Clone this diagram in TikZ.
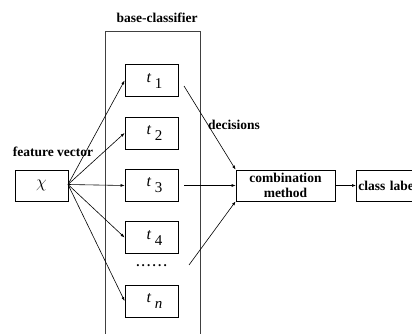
\documentclass[tikz,border=0pt]{standalone}
\usepackage{fontspec}
\setmainfont{Liberation Serif}
\usetikzlibrary{arrows.meta}
\tikzset{
  box/.style={draw=black, line width=0.8pt, minimum width=53pt, minimum height=32pt, inner sep=0pt},
  lbl/.style={font=\fontsize{13.5}{14}\selectfont\bfseries, inner sep=0pt},
  arr/.style={-{Latex[length=4pt,width=3pt]}, line width=0.6pt},
}
\newcommand{\tsub}[1]{\hspace{6pt}{\fontsize{16}{16}\selectfont\itshape t}\hspace{4pt}\raisebox{-6pt}{\fontsize{15}{15}\selectfont #1}}
\begin{document}
\begin{tikzpicture}[x=1pt,y=-1pt]
\useasboundingbox (0,0) rectangle (412,334);
\clip (0,0) rectangle (412,334);
% container
\draw[line width=1pt, draw=black!75] (105,345) -- (105,32) -- (200,32) -- (200,345);
\node[lbl] (bc) at (157,18) {base-classifier};
% base classifiers
\node[box] (t1) at (151.5,80.5) {\tsub{1}};
\node[box] (t2) at (151.5,133) {\tsub{2}};
\node[box] (t3) at (151.5,185.5) {\tsub{3}};
\node[box] (t4) at (151.5,237.5) {\tsub{4}};
\node[box] (tn) at (151.5,301) {\tsub{\itshape n}};
\node[inner sep=0pt, font=\fontsize{13}{13}\selectfont\bfseries] (dots) at (151.5,266) {.\hspace{2.2pt}.\hspace{2.2pt}.\hspace{2.2pt}.\hspace{2.2pt}.\hspace{2.2pt}.};
% input
\node[box, minimum height=31pt] (x) at (41.5,185.5) {\fontsize{16}{16}\selectfont$\chi$};
\node[lbl] (fv) at (53,152) {feature vector};
% combination
\node[box, minimum width=99pt, minimum height=31pt, align=center, font=\fontsize{13.5}{15.5}\selectfont\bfseries] (cm) at (285.5,185.5) {combination\\method};
\node[box, minimum width=70pt, minimum height=31pt, anchor=west, font=\fontsize{13.5}{14}\selectfont\bfseries, text width=68pt, align=left] (cl) at (356,185.5) {\hspace{1pt}class label};
\node[lbl] (dec) at (234,125) {decisions};
% arrows from input
\coordinate (xo) at (68,184.5);
\foreach \t in {t1,t2,t3,t4,tn} \draw[arr] (xo) -- (\t.west);
% decisions
\coordinate (d1) at (184,86);
\coordinate (d3) at (184,185.5);
\coordinate (d4) at (189,265);
\draw[arr] (d1) -- (cm.north west);
\draw[arr] (d3) -- (cm.west);
\draw[arr] (d4) -- (cm.south west);
\draw[arr] (cm.east) -- (cl.west);
\end{tikzpicture}
\end{document}
